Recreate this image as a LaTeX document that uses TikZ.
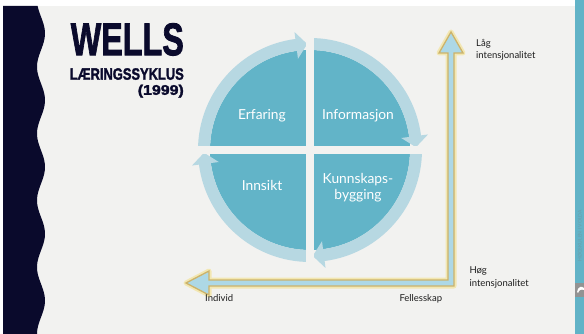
\documentclass[tikz,border=0pt]{standalone}
\usepackage{fontspec}
\usepackage{graphicx}
\setmainfont{Lato}
\newfontfamily\titlefont[FakeBold=2]{Liberation Sans}
\definecolor{bgc}{HTML}{F2F2F0}
\definecolor{navy}{HTML}{0A0A2C}
\definecolor{quadc}{HTML}{62B4C8}
\definecolor{ringc}{HTML}{B7D8E2}
\definecolor{axisfill}{HTML}{ADD8E6}
\definecolor{gold}{HTML}{CDB36A}
\definecolor{glowc}{HTML}{F3E08A}
\definecolor{txt}{HTML}{1E1E1E}
\definecolor{barc}{HTML}{62B3C7}
\tikzset{
  quadlabel/.style={text=white, inner sep=0pt, font=\fontsize{13.8}{17}\selectfont, align=center},
  axislabel/.style={text=txt, inner sep=0pt, font=\fontsize{9.5}{12.5}\selectfont, align=left},
  titlebox/.style={text=navy, inner sep=0pt},
  ringseg/.style={fill=ringc},
  gapbar/.style={fill=bgc},
}
\begin{document}
\begin{tikzpicture}[x=1pt,y=-1pt]
\useasboundingbox (0,0) rectangle (584,334);
\fill[white] (0,0) rectangle (584,334);
\fill[bgc] (3,6) rectangle (575,334);
\fill[barc] (575,0) rectangle (584,334);
% wavy dark band
\fill[navy] (3,6) -- plot[domain=6:334, samples=120, smooth] ({41-4*cos(\x/66.8*360)}, \x) -- (3,334) -- cycle;
% title
\node[titlebox, anchor=north east] (wells) at (184,23) {\resizebox{113pt}{32pt}{\titlefont\bfseries WELLS}};
\node[titlebox, anchor=north east] (sub) at (184,68) {\resizebox{114pt}{11.5pt}{\titlefont\bfseries LÆRINGSSYKLUS}};
\node[titlebox, anchor=north east] (year) at (184,84.5) {\resizebox*{46pt}{13pt}{\titlefont\bfseries (1999)}};
% cycle
\begin{scope}[shift={(310,150)}]
  \fill[quadc] (0,0) circle[radius=100];
  \foreach \s/\e in {180/270, 270/360, 0/90, 90/180}{
    \pgfmathsetmacro{\b}{\e-7.5}
    \pgfmathsetmacro{\t}{\e-1.5}
    \fill[ringseg] (\s:100) arc[start angle=\s, end angle=\b, radius=100]
      -- (\b:92) -- (\t:106) -- (\b:119) -- (\b:112)
      arc[start angle=\b, end angle=\s, radius=112] -- cycle;
  }
  \fill[gapbar] (-4,-126) rectangle (4,126);
  \fill[gapbar] (-126,-4) rectangle (126,4);
\end{scope}
\node[quadlabel, anchor=base] (erf) at (262,120) {Erfaring};
\node[quadlabel, anchor=base] (inf) at (358,120) {Informasjon};
\node[quadlabel, anchor=base] (inn) at (262,191) {Innsikt};
\node[quadlabel, anchor=base] (kun) at (358,200) {Kunnskaps-\\bygging};
% axes
\coordinate (corner) at (451,283);
\coordinate (topTip) at (451,32);
\coordinate (leftTip) at (186,283);
\path[draw=glowc, line width=5pt, opacity=0.6, line join=round]
  (topTip) -- (463,53) -- (454,53) -- (454,286) -- (209,286) -- (209,295) -- (leftTip)
  -- (209,271) -- (209,280) -- (448,280) -- (448,53) -- (439,53) -- cycle;
\path[draw=gold, fill=axisfill, line width=1.3pt, line join=miter]
  (topTip) -- (463,53) -- (454,53) -- (454,286) -- (209,286) -- (209,295) -- (leftTip)
  -- (209,271) -- (209,280) -- (448,280) -- (448,53) -- (439,53) -- cycle;
\node[axislabel, anchor=base west] (lag) at (476,59) {Låg\\intensjonalitet};
\node[axislabel, anchor=base west] (hog) at (469.3,286) {Høg\\intensjonalitet};
\node[axislabel, anchor=base west] (ind) at (205,301) {Individ};
\node[axislabel, anchor=base west] (fel) at (399.3,301) {Fellesskap};
% right bar decoration
\node[text=barc!60!gray, inner sep=0pt, rotate=90, font=\fontsize{5}{6}\selectfont] (hv) at (580,236) {HØGSKULEN I VOLDA};
\fill[gray!85] (575,283) rectangle (584,297);
\fill[white] (577,292) .. controls (578,286) and (582,286) .. (584,288) -- (584,290) .. controls (581,289) and (579,290) .. (578,293) -- cycle;
\end{tikzpicture}
\end{document}
